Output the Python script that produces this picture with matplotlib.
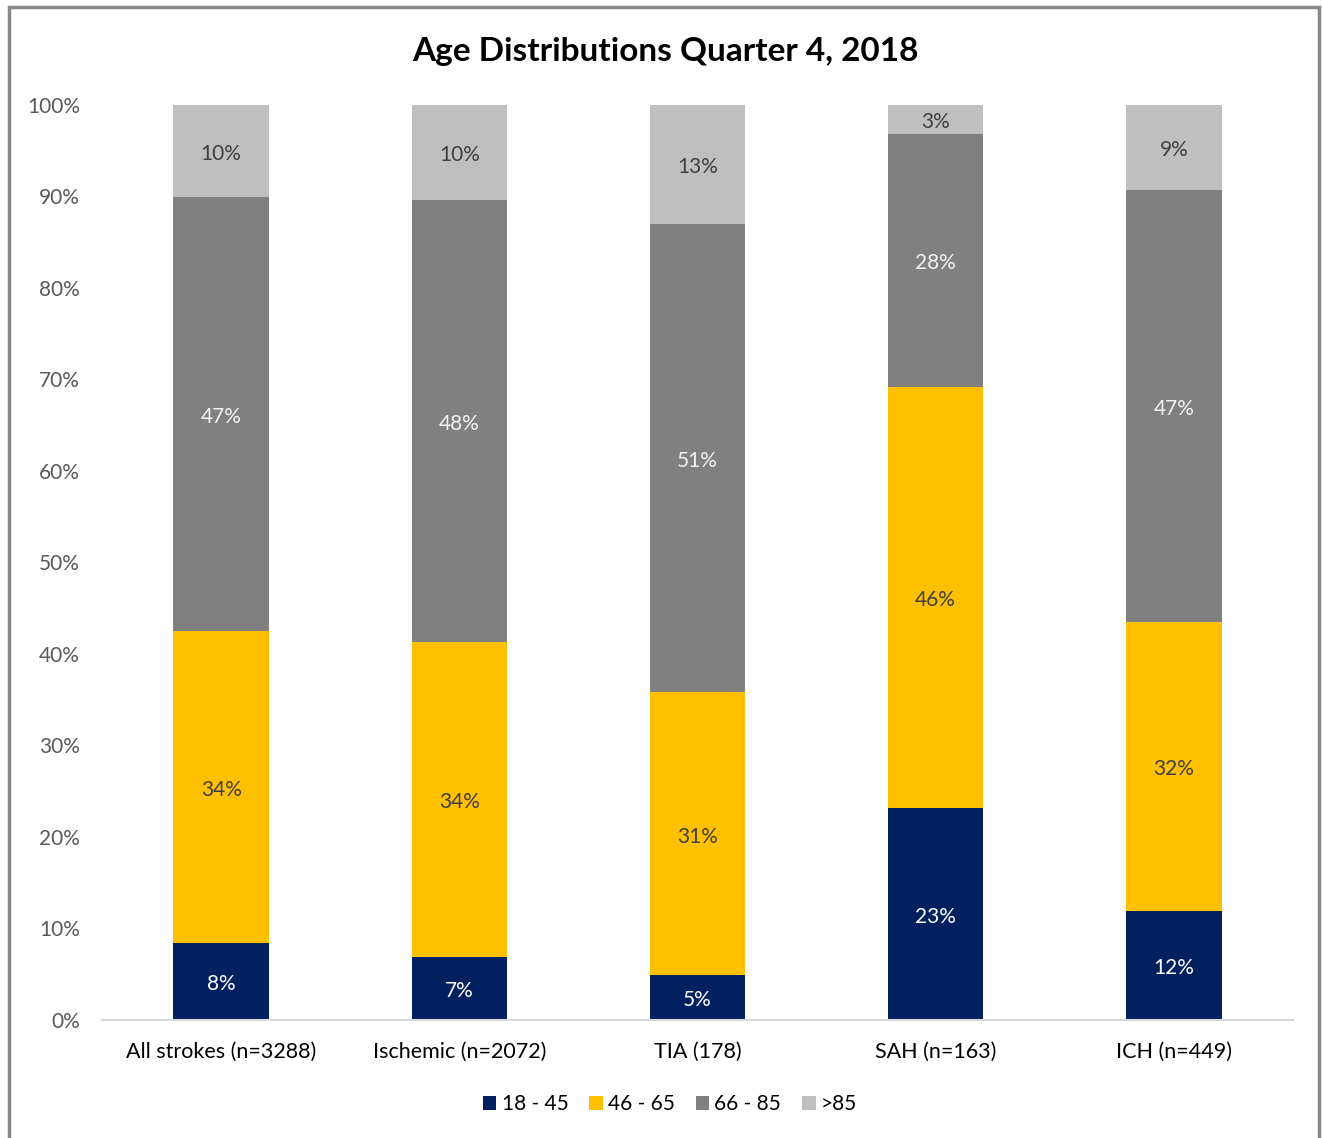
import matplotlib
matplotlib.use("Agg")
import matplotlib.pyplot as plt
from matplotlib.patches import Rectangle, Patch
import numpy as np

plt.rcParams['font.family'] = ['Lato', 'DejaVu Sans']

categories = ["All strokes (n=3288)", "Ischemic (n=2072)", "TIA (178)", "SAH (n=163)", "ICH (n=449)"]
groups = ["18 - 45", "46 - 65", "66 - 85", ">85"]
age_18_45 = [8.4, 6.9, 4.9, 23.2, 11.9]
age_46_65 = [34.1, 34.4, 30.9, 46.0, 31.6]
age_66_85 = [47.4, 48.3, 51.2, 27.6, 47.2]
age_over_85 = [10.1, 10.4, 13.0, 3.2, 9.3]

colors = ["#002060", "#FFC000", "#808080", "#BFBFBF"]
text_colors = ["white", "#404040", "#F2F2F2", "#404040"]

fig = plt.figure(figsize=(13.22, 11.38), dpi=100)
ax = fig.add_axes([102/1322, 1 - 1020/1138, (1293 - 102)/1322, (1020 - 105)/1138])

x = np.arange(len(categories))
bottom = np.zeros(len(categories))
for vals, col, tcol, name in zip([age_18_45, age_46_65, age_66_85, age_over_85], colors, text_colors, groups):
    v = np.array(vals) / 100
    ax.bar(x, v, 0.4, bottom=bottom, color=col, label=name)
    for xi, b, h in zip(x, bottom, v):
        ax.text(xi, b + h / 2 - 0.003, f"{round(h * 100):.0f}%", ha="center", va="center",
                color=tcol, fontsize=15)
    bottom += v

ax.set_xlim(-0.5, len(categories) - 0.5)
ax.set_ylim(0, 1)
ax.set_yticks(np.arange(0, 1.01, 0.1))
ax.set_yticklabels([f"{int(t*100)}%" for t in np.arange(0, 1.01, 0.1)], fontsize=15, color="#595959")
ax.set_xticks(x)
ax.set_xticklabels(categories, fontsize=15.5, color="black")
ax.tick_params(axis="both", length=0)
ax.tick_params(axis="y", pad=16)
ax.tick_params(axis="x", pad=16)
for s in ["top", "right", "left"]:
    ax.spines[s].set_visible(False)
ax.spines["bottom"].set_color("#D9D9D9")
ax.spines["bottom"].set_linewidth(1.5)

fig.text(665/1322, 1 - 52/1138, "Age Distributions Quarter 4, 2018", ha="center", va="center",
         fontsize=24, fontweight="bold", color="black")

handles = [Patch(facecolor=c, label=g) for c, g in zip(colors, groups)]
fig.legend(handles=handles, loc="center", bbox_to_anchor=(670/1322, 1 - 1104/1138), ncol=4,
           frameon=False, fontsize=15, handlelength=0.65, handleheight=0.65, handletextpad=0.25,
           columnspacing=1.0)

fig.patches.append(Rectangle((9/1322, -0.05), (1319 - 9)/1322, 1.05 - 7/1138, transform=fig.transFigure,
                             fill=False, edgecolor="#888888", linewidth=2.5))

fig.savefig("out.png", dpi=100, facecolor="white")
